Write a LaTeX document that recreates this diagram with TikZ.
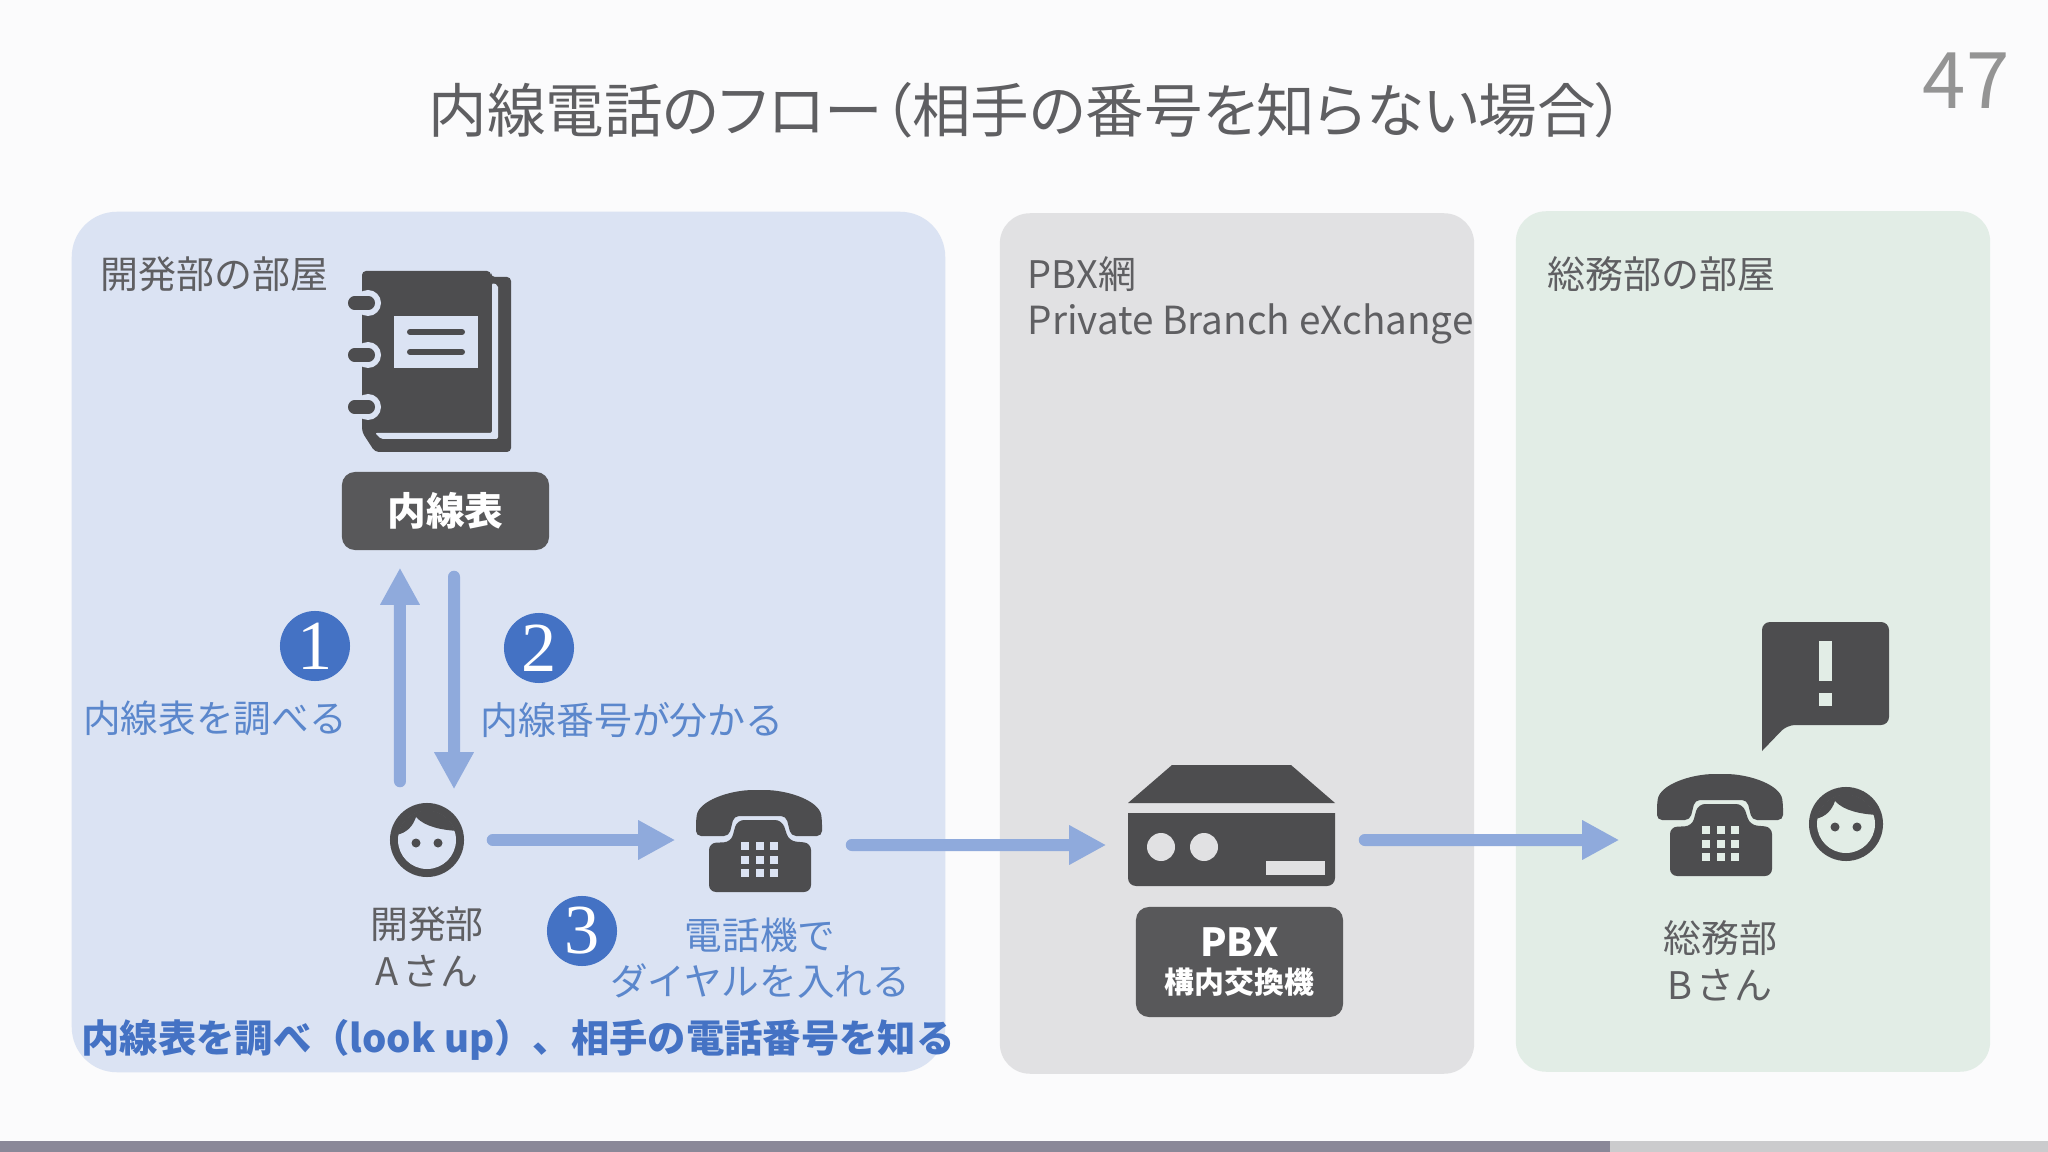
\documentclass[tikz,border=0pt]{standalone}
\usepackage{fontspec}
\setmainfont{Noto Sans CJK JP}
\newfontfamily\digitfont{Liberation Serif}
\newfontfamily\titlefont[RawFeature=+palt]{Noto Sans CJK JP}
\usetikzlibrary{arrows.meta}
\definecolor{pagecol}{HTML}{FBFBFC}
\definecolor{panelblue}{HTML}{DBE3F3}
\definecolor{panelgray}{HTML}{E1E1E3}
\definecolor{panelgreen}{HTML}{E2EDE6}
\definecolor{darkcol}{HTML}{4D4D4F}
\definecolor{boxcol}{HTML}{58585A}
\definecolor{textcol}{HTML}{5F5F62}
\definecolor{stepcol}{HTML}{4472C4}
\definecolor{stepsoft}{HTML}{5B87CC}
\definecolor{flowcol}{HTML}{8FAADC}
\definecolor{barcol}{HTML}{8A8898}
\definecolor{barrest}{HTML}{CBCBCD}
\tikzset{
	panel/.style={shape=rectangle, inner sep=0, minimum width=4.74cm, minimum height=8.6cm, rounded corners=.3cm},
	label/.style={inner sep=0, text=textcol, align=center, font=\fontsize{10.8}{13.2}\selectfont},
	steptext/.style={label, text=stepsoft, font=\fontsize{10.7}{13.2}\selectfont},
	darkbox/.style={shape=rectangle, fill=boxcol, text=white, inner sep=0, minimum width=2.07cm, rounded corners=.13cm, align=center},
	stepnum/.style={shape=circle, fill=stepcol, text=white, inner sep=0, minimum size=.7cm, font=\digitfont\fontsize{20}{20}\selectfont},
	flow/.style={draw=flowcol, line width=.12cm, line cap=round, -{Triangle[length=.37cm, width=.37cm]}},
	icon/.style={inner sep=0, shape=rectangle},
	pics/book/.style={code={
		\fill[darkcol, rounded corners=.04cm] (-68,-89) -- (61,-89) -- (61,-83) -- (81,-83) -- (81,92) -- (-55,92) -- (-68,72) -- cycle;
		\fill[#1, rounded corners=.02cm] (62,-77) -- (68,-75) -- (68,79) -- (-49,79) -- (-55,73) -- (62,73) -- cycle;
		\foreach \ry in {-57,-5,47} {
			\fill[#1] (-62,\ry) circle (13);
			\draw[darkcol, line width=.13cm, line cap=round] (-75.5,\ry) -- (-61.5,\ry);
		}
		\fill[#1] (-36,-44) rectangle (48,8);
		\draw[darkcol, line width=.06cm, line cap=round] (-20,-28) -- (32,-28);
		\draw[darkcol, line width=.06cm, line cap=round] (-20,-8) -- (32,-8);
	}},
	pics/phone/.style={code={
		\fill[darkcol, rounded corners=.05cm] (-63,-5) -- (-63,-21) .. controls (-60,-40) and (-30,-51) .. (0,-51) .. controls (30,-51) and (60,-40) .. (63,-21) -- (63,-5) -- (32,-5) -- (27,-25) -- (-25,-25) -- (-30,-5) -- cycle;
		\fill[darkcol, rounded corners=.07cm] (-50,2) -- (-28,1) -- (-22,-21) -- (23,-21) -- (30,0) -- (52,2) -- (52,51) -- (-50,51) -- cycle;
		\foreach \kx in {-14,1,15} \foreach \ky in {5,19,32}
			\fill[#1] (\kx-4,\ky-4) rectangle (\kx+4,\ky+4);
	}},
	pics/person/.style={code={
		\fill[#1] (0,0) circle (29);
		\begin{scope}
			\clip (0,0) circle (29.5);
			\fill[darkcol] (-31,-5) .. controls (-20,-7) and (-14,-14) .. (-11,-23) .. controls (-2,-13) and (15,-10) .. (31,-9) -- (31,-40) -- (-31,-40) -- cycle;
		\end{scope}
		\fill[darkcol] (-11,3) circle (4.5);
		\fill[darkcol] (11,3) circle (4.5);
	}},
	pics/server/.style={code={
		\fill[darkcol] (-103.5,-22.5) -- (-59.5,-60.5) -- (59.5,-60.5) -- (103.5,-22.5) -- cycle;
		\fill[darkcol, rounded corners=.08cm] (-103.5,20) [sharp corners] -- (-103.5,-12.5) -- (103.5,-12.5) [rounded corners=.08cm] -- (103.5,60.5) -- (-103.5,60.5) -- cycle;
		\fill[#1] (-70.5,21.5) circle (14);
		\fill[#1] (-27.5,21.5) circle (14);
		\fill[#1] (34.5,35.5) rectangle (93.5,49.5);
	}},
}
\begin{document}
\begin{tikzpicture}[x=.01cm, y=-.01cm]
	\fill[pagecol] (0,0) rectangle (2048,1152);
	\useasboundingbox (0,0) rectangle (2048,1152);
	\fill[barcol] (0,1141) rectangle (1610,1152);
	\fill[barrest] (1610,1141) rectangle (2048,1152);

	\node[label, font=\titlefont\fontsize{16.65}{20}\selectfont] (title) at (1027,110) {内線電話のフロー（相手の番号を知らない場合）};
	\node[label, text=black!42, font=\fontsize{22.2}{26}\selectfont] (pageno) at (1966,81) {47};

	\node[panel, fill=panelblue, minimum width=8.73cm, rounded corners=.45cm] (room_dev) at (508.5,642) {};
	\node[panel, fill=panelgray] (net_pbx) at (1237,643.5) {};
	\node[panel, fill=panelgreen] (room_adm) at (1753,641.5) {};

	\node[label, anchor=west] (room_dev_name) at (100,274) {開発部の部屋};
	\node[label, anchor=west] (net_pbx_name) at (1027,274) {PBX網};
	\node[label, anchor=west, font=\fontsize{11}{13.2}\selectfont] (net_pbx_long) at (1027,324) {Private Branch eXchange};
	\node[label, anchor=west] (room_adm_name) at (1547,274) {総務部の部屋};

	% book and person A
	\pic at (430,360) {book=panelblue};
	\node[darkbox, minimum height=.78cm, font=\fontsize{11}{13}\selectfont\bfseries] (book_label) at (445.5,511) {内線表};
	\node[shape=circle, fill=darkcol, inner sep=0, minimum size=.74cm] (person_a) at (427,840) {};
	\pic at (person_a) {person=panelblue};
	\node[label] (person_a_name) at (427,947) {開発部\\A\hspace{.1em}さん};
	\node[icon, minimum width=1.26cm, minimum height=1.02cm] (phone_a) at (759,841) {};
	\pic at (phone_a) {phone=panelblue};

	\node[stepnum] (step_one) at (315,646) {1};
	\node[stepnum] (step_two) at (539,648) {2};
	\node[stepnum] (step_three) at (582,931) {3};
	\node[steptext] (step_one_text) at (215,718) {内線表を調べる};
	\node[steptext, font=\fontsize{10.8}{13.2}\selectfont] (step_two_text) at (632,720) {内線番号が分かる};
	\node[steptext] (step_three_text) at (760,958) {電話機で\\ダイヤルを入れる};
	\node[label, text=stepcol, font=\fontsize{10.9}{13.4}\selectfont\bfseries] (summary) at (518,1040) {内線表を調べ（look up）、相手の電話番号を知る};

	% pbx
	\node[icon, minimum width=2.07cm, minimum height=1.21cm] (pbx) at (1231.5,825.5) {};
	\pic at (pbx) {server=panelgray};
	\node[darkbox, minimum height=1.10cm] (pbx_label) at (1239.5,962) {\fontsize{11}{11.4}\selectfont\bfseries PBX\\[-1.5pt]\fontsize{8.5}{11.4}\selectfont\bfseries 構内交換機};

	% person B
	\node[icon, minimum width=1.26cm, minimum height=1.02cm] (phone_b) at (1720,825) {};
	\pic at (phone_b) {phone=panelgreen};
	\node[shape=circle, fill=darkcol, inner sep=0, minimum size=.74cm] (person_b) at (1846,824) {};
	\pic at (person_b) {person=panelgreen};
	\node[label] (person_b_name) at (1720,961) {総務部\\B\hspace{.1em}さん};
	\fill[darkcol, rounded corners=.08cm] (1762,680) -- (1762,622) -- (1889,622) -- (1889,725) -- (1787,725) [sharp corners] -- (1762,751) -- cycle;
	\fill[panelgreen] (1819,641) rectangle (1832,681);
	\fill[panelgreen] (1819,693) rectangle (1832,706);

	\draw[flow, shorten <=.21cm, shorten >=.17cm] ([xshift=-.27cm]person_a.north) -- ([xshift=-.455cm]book_label.south);
	\draw[flow, shorten <=.26cm, shorten >=.13cm] ([xshift=.085cm]book_label.south) -- ([xshift=.27cm]person_a.north);
	\draw[flow, shorten <=.28cm, shorten >=.20cm] (person_a.east) -- ([yshift=.01cm]phone_a.west);
	\draw[flow, shorten <=.29cm, shorten >=.21cm] ([yshift=-.04cm]phone_a.east) -- ([yshift=-.195cm]pbx.west);
	\draw[flow, shorten <=.29cm, shorten >=.37cm] ([yshift=-.145cm]pbx.east) -- ([yshift=-.15cm]phone_b.west);
\end{tikzpicture}
\end{document}
